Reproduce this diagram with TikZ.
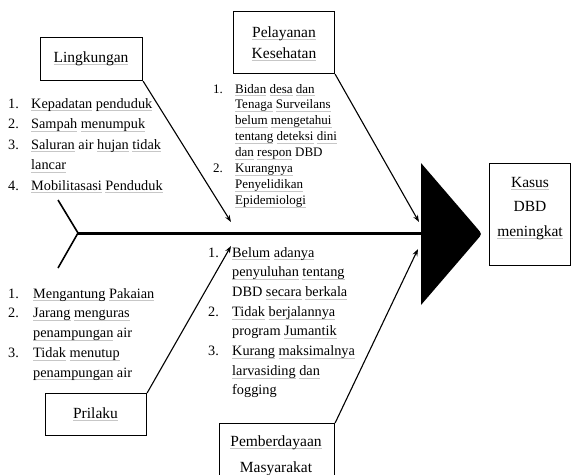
\documentclass[tikz,border=0pt]{standalone}
\usepackage{fontspec}
\setmainfont{Liberation Serif}
\usetikzlibrary{arrows.meta}
\newlength\ulw
\newcommand\wv[1]{\settowidth{\ulw}{#1}\rlap{\textcolor{black!22}{\rule[-3.2pt]{\ulw}{0.8pt}}}#1}
\tikzset{
 box/.style={draw, line width=1.1pt, inner sep=0pt, anchor=north west},
 txt/.style={inner sep=0pt, anchor=base west},
 ttl/.style={inner sep=0pt, anchor=base},
 arr/.style={-{Stealth[length=7pt,width=5pt]}, line width=1.1pt},
 bone/.style={line width=1.6pt},
 spine/.style={line width=3pt},
}
\begin{document}
\begin{tikzpicture}[x=1pt,y=-1pt]
\useasboundingbox (0,0) rectangle (572,474);
\clip (0,0) rectangle (572,474);
% boxes
\node[box, minimum width=102pt, minimum height=43pt] (ling) at (40,37) {};
\node[box, minimum width=101pt, minimum height=62pt] (pel) at (233,11) {};
\node[box, minimum width=81pt, minimum height=102pt] (kasus) at (489,163) {};
\node[box, minimum width=101pt, minimum height=42pt] (pril) at (45,393) {};
\node[box, minimum width=115pt, minimum height=70pt] (pemb) at (219,423) {};
% titles
\node[ttl, font=\fontsize{15.5}{18}\selectfont] (lingT) at (91,62) {\wv{Lingkungan}};
\node[ttl, font=\fontsize{15.5}{21}\selectfont] (pelT) at (284,37) {\begin{tabular}[t]{@{}c@{}}\wv{Pelayanan}\\\wv{Kesehatan}\end{tabular}};
\node[ttl, font=\fontsize{15.5}{24.5}\selectfont] (kasusT) at (530,187) {\begin{tabular}[t]{@{}c@{}}\wv{Kasus}\\DBD\\\wv{meningkat}\end{tabular}};
\node[ttl, font=\fontsize{15.5}{18}\selectfont] (prilT) at (95.5,418) {\wv{Prilaku}};
\node[ttl, font=\fontsize{15.5}{26}\selectfont] (pembT) at (276,446) {\begin{tabular}[t]{@{}c@{}}\wv{Pemberdayaan}\\Masyarakat\end{tabular}};
% lists
\node[txt, font=\fontsize{14.3}{20.5}\selectfont] (lingL) at (8,108) {\begin{tabular}[t]{@{}p{23pt}@{}l@{}}1.&\wv{Kepadatan} \wv{penduduk}\\2.&\wv{Sampah} \wv{menumpuk}\\3.&\wv{Saluran} air \wv{hujan} \wv{tidak}\\&\wv{lancar}\\4.&\wv{Mobilitasasi} \wv{Penduduk}\end{tabular}};
\node[txt, font=\fontsize{13}{15.9}\selectfont] (pelL) at (213,93) {\begin{tabular}[t]{@{}p{22pt}@{}l@{}}1.&\wv{Bidan} \wv{desa} \wv{dan}\\&\wv{Tenaga} \wv{Surveilans}\\&\wv{belum} \wv{mengetahui}\\&\wv{tentang} \wv{deteksi} \wv{dini}\\&\wv{dan} \wv{respon} DBD\\2.&\wv{Kurangnya}\\&\wv{Penyelidikan}\\&\wv{Epidemiologi}\end{tabular}};
\node[txt, font=\fontsize{14.3}{19.75}\selectfont] (prilL) at (8,298) {\begin{tabular}[t]{@{}p{25pt}@{}l@{}}1.&\wv{Mengantung} \wv{Pakaian}\\2.&\wv{Jarang} \wv{menguras}\\&\wv{penampungan} air\\3.&\wv{Tidak} \wv{menutup}\\&\wv{penampungan} air\end{tabular}};
\node[txt, font=\fontsize{14.3}{19.7}\selectfont] (pembL) at (208,257) {\begin{tabular}[t]{@{}p{24pt}@{}l@{}}1.&\wv{Belum} \wv{adanya}\\&\wv{penyuluhan} \wv{tentang}\\&DBD \wv{secara} \wv{berkala}\\2.&\wv{Tidak} \wv{berjalannya}\\&program \wv{Jumantik}\\3.&\wv{Kurang} \wv{maksimalnya}\\&\wv{larvasiding} \wv{dan}\\&fogging\end{tabular}};
% spine and head
\coordinate (spineL) at (78,233);
\coordinate (spineR) at (422,233);
\coordinate (tailU) at (58,200);
\coordinate (tailD) at (58,268);
\coordinate (headT) at (421,163);
\coordinate (headB) at (421,305);
\coordinate (headP) at (482,234);
\coordinate (headPu) at (477.4,228.6);
\coordinate (headPd) at (477.4,239.4);
\draw[spine] (spineL) -- (spineR);
\draw[bone, line join=miter] (tailU) -- (spineL) -- (tailD);
\fill (headB) -- (headT) -- (headPu) .. controls (headP) .. (headPd) -- cycle;
% arrows
\coordinate (aLing) at (231,222);
\coordinate (aPel) at (419,222);
\coordinate (aPril) at (231,246);
\coordinate (aPemb) at (418,249);
\draw[arr] (ling.south east) -- (aLing);
\draw[arr] (pel.south east) -- (aPel);
\draw[arr] (pril.north east) -- (aPril);
\draw[arr] (pemb.north east) -- (aPemb);
\end{tikzpicture}
\end{document}
